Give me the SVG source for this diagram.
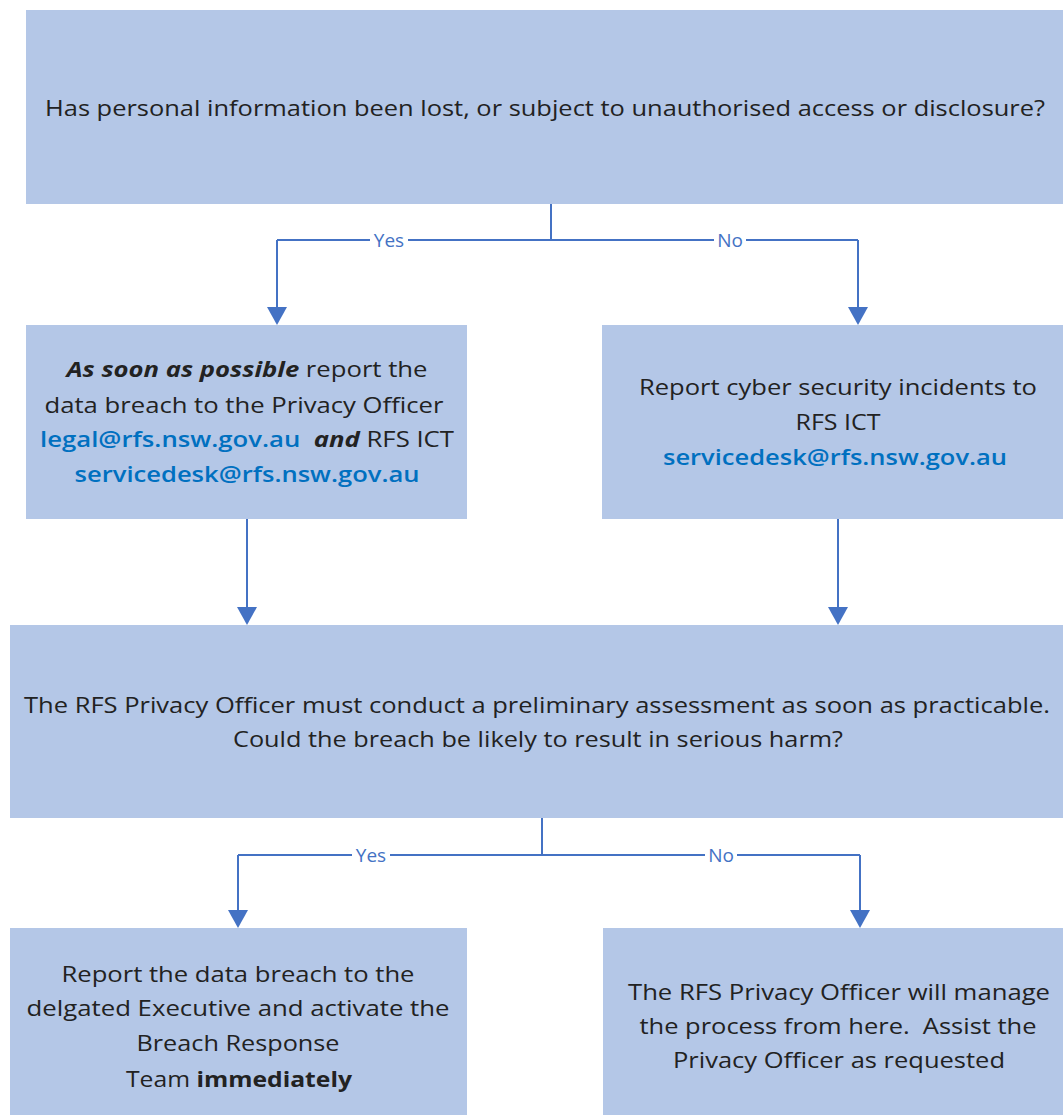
<svg xmlns="http://www.w3.org/2000/svg" width="1063" height="1115" viewBox="0 0 1063 1115">
<style>
.box{fill:#B4C7E7;stroke:none}
.t{font-family:"Open Sans","Liberation Sans",sans-serif;font-size:21px;fill:#222;text-anchor:middle}
.em{fill:#0070C0;font-weight:600}
.bi{font-weight:bold;font-style:italic}
.b{font-weight:bold}
.ln{fill:none;stroke:#4472C4;stroke-width:2}
.lbl{font-family:"Open Sans","Liberation Sans",sans-serif;font-size:19px;fill:#4472C4;text-anchor:middle}
.lbg{fill:#fff}
.ah{fill:#4472C4}
</style>
<rect width="1063" height="1115" fill="#fff"/>
<g id="connectors">
<path class="ln" d="M551,204 V240"/>
<path class="ln" d="M277,240 H858"/>
<path class="ln" d="M277,240 V307"/>
<path class="ah" d="M267,307 L287,307 L277,325 Z"/>
<path class="ln" d="M858,240 V307"/>
<path class="ah" d="M848,307 L868,307 L858,325 Z"/>
<path class="ln" d="M247,519 V607"/>
<path class="ah" d="M237,607 L257,607 L247,625 Z"/>
<path class="ln" d="M838,519 V607"/>
<path class="ah" d="M828,607 L848,607 L838,625 Z"/>
<path class="ln" d="M542,818 V855"/>
<path class="ln" d="M238,855 H860"/>
<path class="ln" d="M238,855 V910"/>
<path class="ah" d="M228,910 L248,910 L238,928 Z"/>
<path class="ln" d="M860,855 V910"/>
<path class="ah" d="M850,910 L870,910 L860,928 Z"/>
<rect class="lbg" x="370" y="228" width="38" height="24"/>
<text class="lbl" x="389" y="247">Yes</text>
<rect class="lbg" x="714" y="228" width="32" height="24"/>
<text class="lbl" x="730" y="247">No</text>
<rect class="lbg" x="352" y="843" width="38" height="24"/>
<text class="lbl" x="371" y="862">Yes</text>
<rect class="lbg" x="705" y="843" width="32" height="24"/>
<text class="lbl" x="721" y="862">No</text>
</g>
<g id="n1">
<rect class="box" x="26" y="10" width="1037" height="194"/>
<text class="t" x="545" y="116" textLength="1000" lengthAdjust="spacingAndGlyphs">Has personal information been lost, or subject to unauthorised access or disclosure?</text>
</g>
<g id="n2">
<rect class="box" x="26" y="325" width="441" height="194"/>
<text class="t" x="247" y="377" textLength="361" lengthAdjust="spacingAndGlyphs"><tspan class="bi">As soon as possible</tspan> report the</text>
<text class="t" x="244" y="413" textLength="399" lengthAdjust="spacingAndGlyphs">data breach to the Privacy Officer</text>
<text class="t" x="247" y="447" textLength="414" lengthAdjust="spacingAndGlyphs" xml:space="preserve"><tspan class="em">legal@rfs.nsw.gov.au</tspan>  <tspan class="bi">and</tspan> RFS ICT</text>
<text class="t em" x="247" y="482" textLength="345" lengthAdjust="spacingAndGlyphs">servicedesk@rfs.nsw.gov.au</text>
</g>
<g id="n3">
<rect class="box" x="602" y="325" width="461" height="194"/>
<text class="t" x="838" y="395" textLength="398" lengthAdjust="spacingAndGlyphs">Report cyber security incidents to</text>
<text class="t" x="838" y="430" textLength="85" lengthAdjust="spacingAndGlyphs">RFS ICT</text>
<text class="t em" x="835" y="465" textLength="344" lengthAdjust="spacingAndGlyphs">servicedesk@rfs.nsw.gov.au</text>
</g>
<g id="n4">
<rect class="box" x="10" y="625" width="1053" height="193"/>
<text class="t" x="537" y="713" textLength="1026" lengthAdjust="spacingAndGlyphs">The RFS Privacy Officer must conduct a preliminary assessment as soon as practicable.</text>
<text class="t" x="538" y="747" textLength="610" lengthAdjust="spacingAndGlyphs">Could the breach be likely to result in serious harm?</text>
</g>
<g id="n5">
<rect class="box" x="10" y="928" width="457" height="187"/>
<text class="t" x="238" y="982" textLength="353" lengthAdjust="spacingAndGlyphs">Report the data breach to the</text>
<text class="t" x="238" y="1016" textLength="423" lengthAdjust="spacingAndGlyphs">delgated Executive and activate the</text>
<text class="t" x="238" y="1051" textLength="203" lengthAdjust="spacingAndGlyphs">Breach Response</text>
<text class="t" x="239" y="1087" textLength="226" lengthAdjust="spacingAndGlyphs">Team <tspan class="b">immediately</tspan></text>
</g>
<g id="n6">
<rect class="box" x="603" y="928" width="460" height="187"/>
<text class="t" x="839" y="1000" textLength="422" lengthAdjust="spacingAndGlyphs">The RFS Privacy Officer will manage</text>
<text class="t" x="838" y="1034" textLength="397" lengthAdjust="spacingAndGlyphs" xml:space="preserve">the process from here.  Assist the</text>
<text class="t" x="839" y="1068" textLength="332" lengthAdjust="spacingAndGlyphs">Privacy Officer as requested</text>
</g>
</svg>
